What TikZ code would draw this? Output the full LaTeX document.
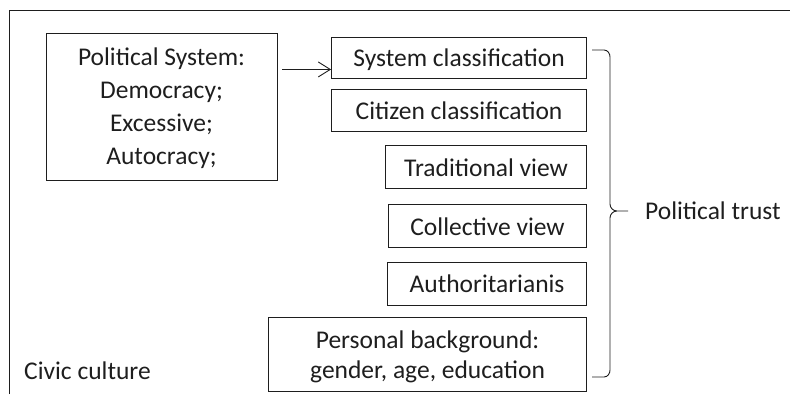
\documentclass[tikz,border=0pt]{standalone}
\usepackage{fontspec}
\setmainfont{Carlito}
\usepackage{tikz}
\usetikzlibrary{positioning, arrows.meta}

\definecolor{ink}{HTML}{1E1E1E}

\tikzset{
  box/.style={draw, line width=0.9pt, align=center, inner sep=0pt, minimum height=43pt, text depth=-4.5pt},
  arr/.style={-{Straight Barb[length=12pt,width=15pt]}, line width=0.9pt},
}

\begin{document}
\begin{tikzpicture}[x=1pt, y=-1pt, font=\fontsize{25.5}{33}\selectfont, text=ink, draw=ink]
            \useasboundingbox (0,0) rectangle (790,394);
            \draw[line width=1pt] (9,394) -- (9,10) -- (790,10);

            \node[box, minimum width=231pt, minimum height=147pt] (pol) at (161.5,106.5) {Political System:\\Democracy;\\Excessive;\\Autocracy;};
            \node[box, anchor=east, minimum width=255pt, minimum height=41pt] (sys) at (587,57.5) {System classification};
            \node[box, below=11pt of sys.south east, anchor=north east, minimum width=255pt, minimum height=42pt] (cit) {Citizen classification};
            \node[box, below=13pt of cit.south east, anchor=north east, minimum width=201pt] (trad) {Traditional view};
            \node[box, below=15pt of trad.south east, anchor=north east, minimum width=198pt] (coll) {Collective view};
            \node[box, below=14pt of coll.south east, anchor=north east, minimum width=199pt] (auth) {Authoritarianis};
            \node[box, below=11pt of auth.south east, anchor=north east, minimum width=318pt, minimum height=74pt,
                  font=\fontsize{25.5}{30}\selectfont] (pers) {Personal background:\\gender, age, education};

            \node[anchor=west, inner sep=0pt] (trust) at (645,211) {Political trust};
            \node[anchor=west, inner sep=0pt] (civic) at (24,371) {Civic culture};

            % arrow into the first classification box
            \coordinate (tip) at ([yshift=9pt]sys.south west);
            \draw[arr] ([xshift=5pt]pol.east |- tip) -- (tip);

            % brace round the six boxes
            \draw[line width=0.9pt] (592,50) -- (604,50) to[out=0,in=90] (610,57) -- (610,204)
                  to[out=-90,in=180] (617,211) -- (628,211)
                  (617,211) to[out=180,in=90] (610,218) -- (610,370)
                  to[out=-90,in=0] (604,377) -- (592,377);
        \end{tikzpicture}
\end{document}
